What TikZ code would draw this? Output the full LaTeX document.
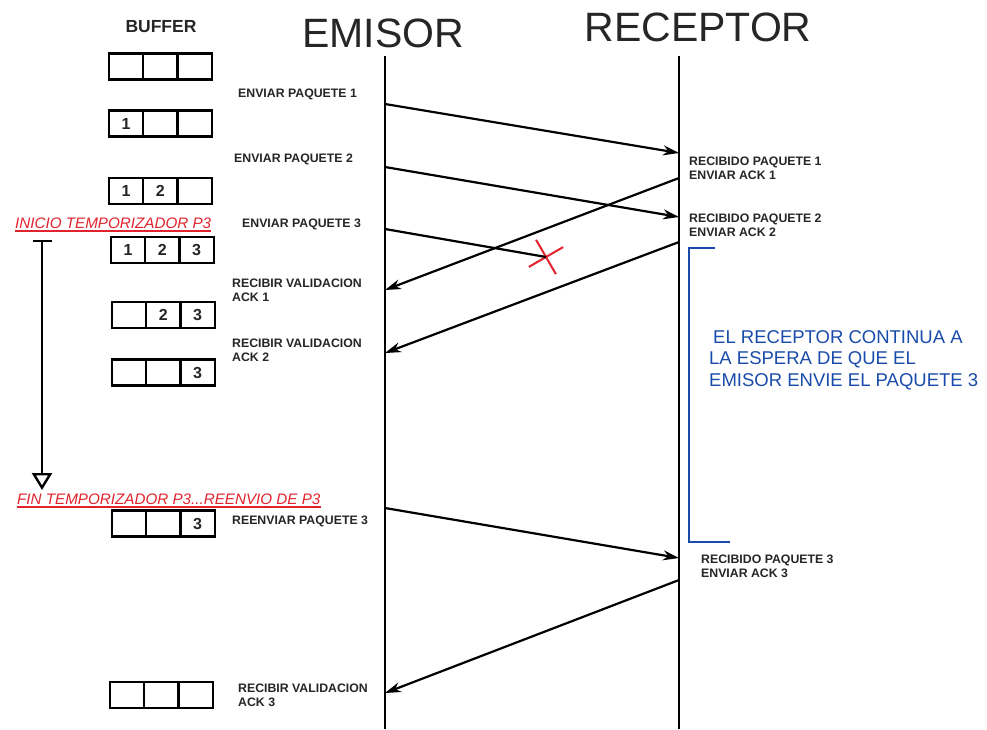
\documentclass[tikz,border=0pt]{standalone}
\usepackage{fontspec}
\setmainfont{Liberation Sans}
\usetikzlibrary{positioning,arrows.meta,shapes.misc}
\definecolor{timerred}{RGB}{225,35,45}
\definecolor{waitblue}{RGB}{25,75,170}

% one buffer row: name, x of left cell centre, y, three cells
\newcommand{\bufrow}[6]{%
  \node[cell] (#1a) at (#2,#3) {#4};
  \node[cell, right=0pt of #1a] (#1b) {#5};
  \node[cell, right=0pt of #1b] (#1c) {#6};}

\begin{document}
\begin{tikzpicture}[x=1pt, y=-1pt, >=Stealth,
    cell/.style={draw, line width=2.4pt, minimum width=34.3pt, minimum height=26pt, inner sep=0pt, outer sep=0pt, font=\fontsize{16}{16}\selectfont\bfseries, text=black!85},
    lbl/.style={font=\fontsize{12.3}{14}\selectfont\bfseries, align=left, inner sep=0pt, anchor=west, text=black!85},
    title/.style={font=\fontsize{41}{41}\selectfont, inner sep=0pt, text=black!85},
    msg/.style={line width=2.2pt, arrows={-Stealth[length=16pt, width=10pt]}},
    life/.style={line width=2.6pt},
    timer/.style={font=\fontsize{15.2}{15}\selectfont\itshape, text=timerred, inner sep=0pt, anchor=west}]

  \useasboundingbox (0,0) rectangle (987,729);

  % headings
  \node[font=\fontsize{17.5}{17.5}\selectfont\bfseries, text=black!85] (buffer) at (161,27) {BUFFER};
  \node[title] (emisor) at (383,33) {EMISOR};
  \node[title] (receptor) at (698,27) {RECEPTOR};

  % lifelines
  \coordinate (etop) at (385,56);
  \coordinate (ebot) at (385,729);
  \coordinate (rtop) at (679,56);
  \coordinate (rbot) at (679,729);
  \draw[life] (etop) -- (ebot);
  \draw[life] (rtop) -- (rbot);

  % buffer states
  \bufrow{b0}{126}{66.5}{}{}{}
  \bufrow{b1}{126}{123.5}{1}{}{}
  \bufrow{b2}{126}{191}{1}{2}{}
  \bufrow{b3}{128}{250}{1}{2}{3}
  \bufrow{b4}{129}{315}{}{2}{3}
  \bufrow{b5}{129}{372.5}{}{}{3}
  \bufrow{b6}{129}{523.5}{}{}{3}
  \bufrow{b7}{127}{695}{}{}{}

  % emisor side texts
  \node[lbl] (s1) at (238,94) {ENVIAR PAQUETE 1};
  \node[lbl] (s2) at (234,159) {ENVIAR PAQUETE 2};
  \node[lbl] (s3) at (242,224) {ENVIAR PAQUETE 3};
  \node[lbl] (v1) at (232,290) {RECIBIR VALIDACION\\ACK 1};
  \node[lbl] (v2) at (232,350) {RECIBIR VALIDACION\\ACK 2};
  \node[lbl] (s4) at (232,521) {REENVIAR PAQUETE 3};
  \node[lbl] (v3) at (238,695) {RECIBIR VALIDACION\\ACK 3};

  % receptor side texts
  \node[lbl] (rc1) at (689,168) {RECIBIDO PAQUETE 1\\ENVIAR ACK 1};
  \node[lbl] (rc2) at (689,225) {RECIBIDO PAQUETE 2\\ENVIAR ACK 2};
  \node[lbl] (rc3) at (701,566) {RECIBIDO PAQUETE 3\\ENVIAR ACK 3};

  % message end points
  \coordinate (e1) at (385,104);  \coordinate (r1) at (679,153);
  \coordinate (e2) at (385,167);  \coordinate (r2) at (679,217);
  \coordinate (e3) at (385,229);
  \coordinate (ra1) at (679,178); \coordinate (ea1) at (385,290);
  \coordinate (ra2) at (679,242); \coordinate (ea2) at (385,353);
  \coordinate (e4) at (385,508);  \coordinate (r3) at (679,558);
  \coordinate (ra3) at (679,580); \coordinate (ea3) at (385,693);

  \node[cross out, draw=timerred, line width=2pt, minimum size=26pt, rotate=-15] (lost) at (546,257) {};

  \draw[msg] (e1) -- (r1);
  \draw[msg] (e2) -- (r2);
  \draw[line width=2.2pt] (e3) -- (lost.center);
  \draw[msg] (ra1) -- (ea1);
  \draw[msg] (ra2) -- (ea2);
  \draw[msg] (e4) -- (r3);
  \draw[msg] (ra3) -- (ea3);

  % timer
  \node[timer] (tini) at (15,223) {INICIO TEMPORIZADOR P3};
  \node[timer] (tfin) at (17,499) {FIN TEMPORIZADOR P3...REENVIO DE P3};
  \draw[timerred, line width=1.8pt] ([yshift=-2.5pt]tini.base west) -- ([yshift=-2.5pt]tini.base east);
  \draw[timerred, line width=1.8pt] ([yshift=-2.5pt]tfin.base west) -- ([yshift=-2.5pt]tfin.base east);
  \coordinate (tstart) at (42,240);
  \coordinate (tend) at (42,490);
  \draw[line width=2.4pt, {Bar[width=19pt]}-{Triangle[open, length=17pt, width=20pt, fill=white]}] (tstart) -- (tend);

  % waiting bracket
  \draw[waitblue, line width=2.6pt] (715,248) -- (689,248) -- (689,542) -- (730,542);
  \node[font=\fontsize{18.5}{21.5}\selectfont, text=waitblue, align=left, anchor=west, inner sep=0pt] (wait) at (709,360)
    {\hspace{4pt}EL RECEPTOR CONTINUA A\\LA ESPERA DE QUE EL\\EMISOR ENVIE EL PAQUETE 3};
\end{tikzpicture}
\end{document}
